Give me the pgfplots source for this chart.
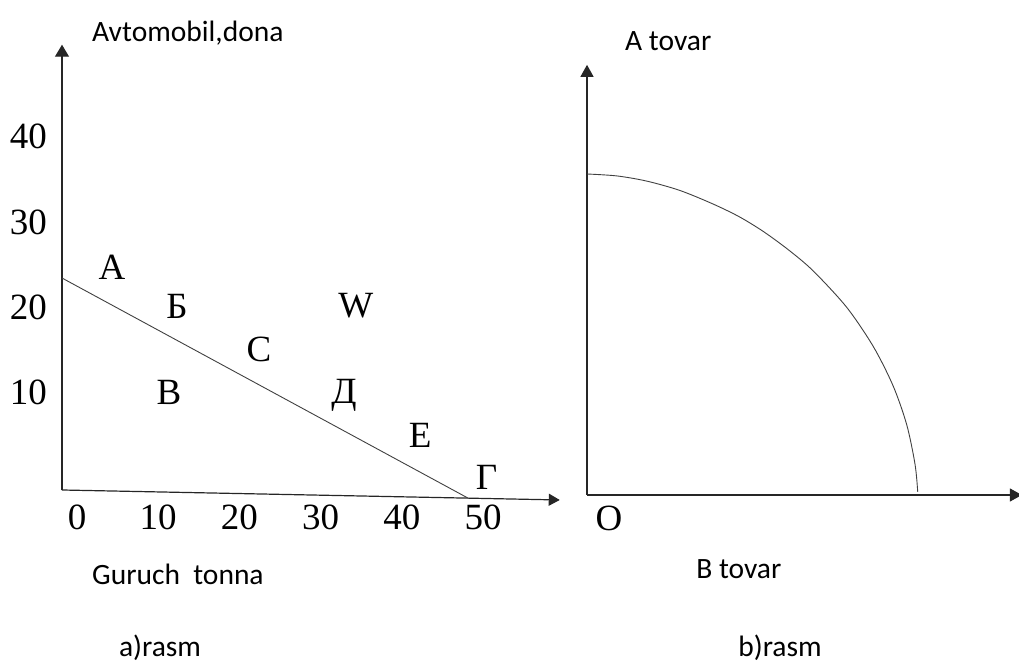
\documentclass[border=0pt]{standalone}
\usepackage{fontspec}
\setmainfont{Carlito}
\newfontfamily\tms{Liberation Serif}
\usepackage{pgfplots}
\pgfplotsset{compat=1.18}
\usetikzlibrary{arrows.meta}

\newcommand{\numf}{\tms\fontsize{37bp}{40bp}\selectfont}
\newcommand{\lblf}{\fontsize{29.5bp}{33bp}\selectfont}

\begin{document}
\begin{tikzpicture}[x=1bp,y=1bp]
\useasboundingbox (0,0) rectangle (1019,664);

% a) rasm
\begin{axis}[
  at={(62bp,174bp)}, anchor=south west,
  scale only axis, x=8.12bp, y=8.53bp,
  xmin=0, xmax=61.3, ymin=0, ymax=52.2,
  axis lines=left,
  x axis line style={draw=none},
  y axis line style={line width=1.2bp, black!85, -{Triangle[width=14bp,length=12bp]}},
  xtick={0,10,...,50}, ytick={10,20,30,40},
  major tick length=0pt,
  ticklabel style={font=\numf, inner sep=0pt},
  /pgf/number format/assume math mode=true,
  xticklabel style={anchor=base, xshift=15bp, yshift=-39.5bp},
  yticklabel style={anchor=east, xshift=-15bp, yshift=12bp},
  clip=false,
]
\addplot[line width=1.2bp, black!85, -{Triangle[width=12bp,length=11bp]}] coordinates {(0,0) (61.3,-1.17)};
\addplot[line width=0.9bp, black!75] coordinates {(0,24.85) (50,-0.95)};
\node[font=\numf, inner sep=0pt] at (axis cs:6.16,26.1) {A};
\node[font=\numf, inner sep=0pt] at (axis cs:14.16,21.5) {Б};
\node[font=\numf, inner sep=0pt] at (axis cs:36.2,21.6) {W};
\node[font=\numf, inner sep=0pt] at (axis cs:24.26,16.5) {C};
\node[font=\numf, inner sep=0pt] at (axis cs:13.18,11.4) {В};
\node[font=\numf, inner sep=0pt] at (axis cs:34.73,11.1) {Д};
\node[font=\numf, inner sep=0pt] at (axis cs:44.1,6.4) {E};
\node[font=\numf, inner sep=0pt] at (axis cs:52.3,1.5) {Г};
\node[font=\lblf, inner sep=0pt, anchor=base west] at (axis cs:3.69,52.6) {Avtomobil,dona};
\node[font=\lblf, inner sep=0pt, anchor=base west] at (axis cs:3.69,-11.1) {Guruch\ \ tonna};
\node[font=\lblf, inner sep=0pt, anchor=base west] at (axis cs:7.0,-19.5) {a)rasm};
\end{axis}

% b) rasm
\begin{axis}[
  at={(587bp,169bp)}, anchor=south west,
  scale only axis, x=3.307bp, y=3.21bp,
  xmin=0, xmax=131.5, ymin=0, ymax=134,
  axis lines=left,
  axis line style={line width=1.2bp, black!85, -{Triangle[width=13bp,length=12bp]}},
  xtick=\empty, ytick=\empty,
  clip=false,
]
\addplot[smooth, line width=0.9bp, black!75] coordinates {
  (0,100) (9,99.4) (18,97.8) (28,94.9) (38,90.7) (46,86.7) (53.3,82.1)
  (61,76.3) (68.4,69.8) (78.5,58.5) (86.6,46.2) (92.6,33.9) (96.7,21.8)
  (99.2,9.5) (100,1.0)
};
\node[font=\numf, inner sep=0pt] at (axis cs:6.65,-7.2) {O};
\node[font=\lblf, inner sep=0pt, anchor=base west] at (axis cs:11.5,138.6) {A tovar};
\node[font=\lblf, inner sep=0pt, anchor=base west] at (axis cs:33.0,-25.9) {B tovar};
\node[font=\lblf, inner sep=0pt, anchor=base west] at (axis cs:45.7,-50.3) {b)rasm};
\end{axis}
\end{tikzpicture}
\end{document}
